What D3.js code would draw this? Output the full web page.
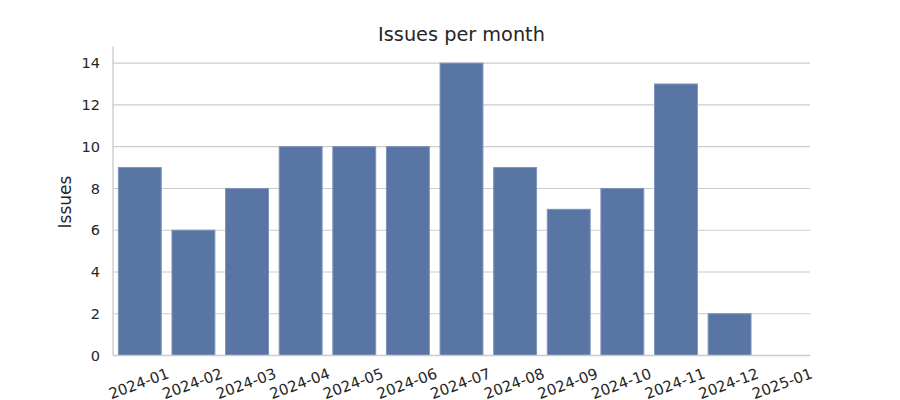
<!DOCTYPE html>
<html>
<head>
<meta charset="utf-8">
<script src="https://cdn.jsdelivr.net/npm/d3@7"></script>
<style>
  body { margin: 0; background: #fff; }
  text { font-family: "DejaVu Sans", sans-serif; fill: #262626; }
</style>
</head>
<body>
<div id="chart"></div>
<script>
const months = ['2024-01', '2024-02', '2024-03', '2024-04', '2024-05', '2024-06', '2024-07',
                '2024-08', '2024-09', '2024-10', '2024-11', '2024-12', '2025-01'];
const issues = [9, 6, 8, 10, 10, 10, 14, 9, 7, 8, 13, 2, 0];
const yTicks = [0, 2, 4, 6, 8, 10, 12, 14];

let width = 900;
let height = 400;
let margin = { top: 48.5, right: 90, bottom: 44.5, left: 113 };

let data = months.map((m, i) => ({ month: m, count: issues[i] }));

let x = d3.scaleBand()
    .domain(months)
    .range([margin.left, width - margin.right])
    .paddingInner(0.2)
    .paddingOuter(0.1);

let y = d3.scaleLinear()
    .domain([0, d3.max(issues) * 1.05])
    .range([height - margin.bottom, margin.top]);

let svg = d3.select('#chart').append('svg')
    .attr('width', width)
    .attr('height', height);

// grid
svg.append('g')
    .selectAll('line')
    .data(yTicks)
    .join('line')
        .attr('x1', margin.left)
        .attr('x2', width - margin.right)
        .attr('y1', d => y(d))
        .attr('y2', d => y(d))
        .attr('stroke', '#cccccc')
        .attr('stroke-width', 1.1);

// bars
svg.append('g')
    .selectAll('rect')
    .data(data.filter(d => d.count > 0))
    .join('rect')
        .attr('x', d => x(d.month))
        .attr('y', d => y(d.count))
        .attr('width', x.bandwidth())
        .attr('height', d => y(0) - y(d.count))
        .attr('fill', '#5875a4')
        .attr('stroke', '#7d93bb')
        .attr('stroke-width', 1);

// spines
svg.append('line')
    .attr('x1', margin.left).attr('x2', margin.left)
    .attr('y1', margin.top - 2).attr('y2', y(0))
    .attr('stroke', '#cccccc').attr('stroke-width', 1.4);
svg.append('line')
    .attr('x1', margin.left).attr('x2', width - margin.right)
    .attr('y1', y(0)).attr('y2', y(0))
    .attr('stroke', '#cccccc').attr('stroke-width', 1.4);

// y tick labels
svg.append('g')
    .selectAll('text')
    .data(yTicks)
    .join('text')
        .attr('x', margin.left - 13)
        .attr('y', d => y(d))
        .attr('dy', '0.35em')
        .attr('text-anchor', 'end')
        .attr('font-size', 14.5)
        .text(d => d);

// x tick labels, rotated
svg.append('g')
    .selectAll('text')
    .data(months)
    .join('text')
        .attr('transform', d => `translate(${x(d) + x.bandwidth() / 2 - 1},${y(0) + 28}) rotate(-20)`)
        .attr('text-anchor', 'middle')
        .attr('dy', '0.35em')
        .attr('font-size', 15)
        .text(d => d);

// labels
svg.append('text')
    .attr('x', (margin.left + width - margin.right) / 2)
    .attr('y', 41)
    .attr('text-anchor', 'middle')
    .attr('font-size', 19.3)
    .text('Issues per month');

svg.append('text')
    .attr('transform', `translate(71,${(margin.top + y(0)) / 2}) rotate(-90)`)
    .attr('text-anchor', 'middle')
    .attr('font-size', 17)
    .text('Issues');
</script>
</body>
</html>
